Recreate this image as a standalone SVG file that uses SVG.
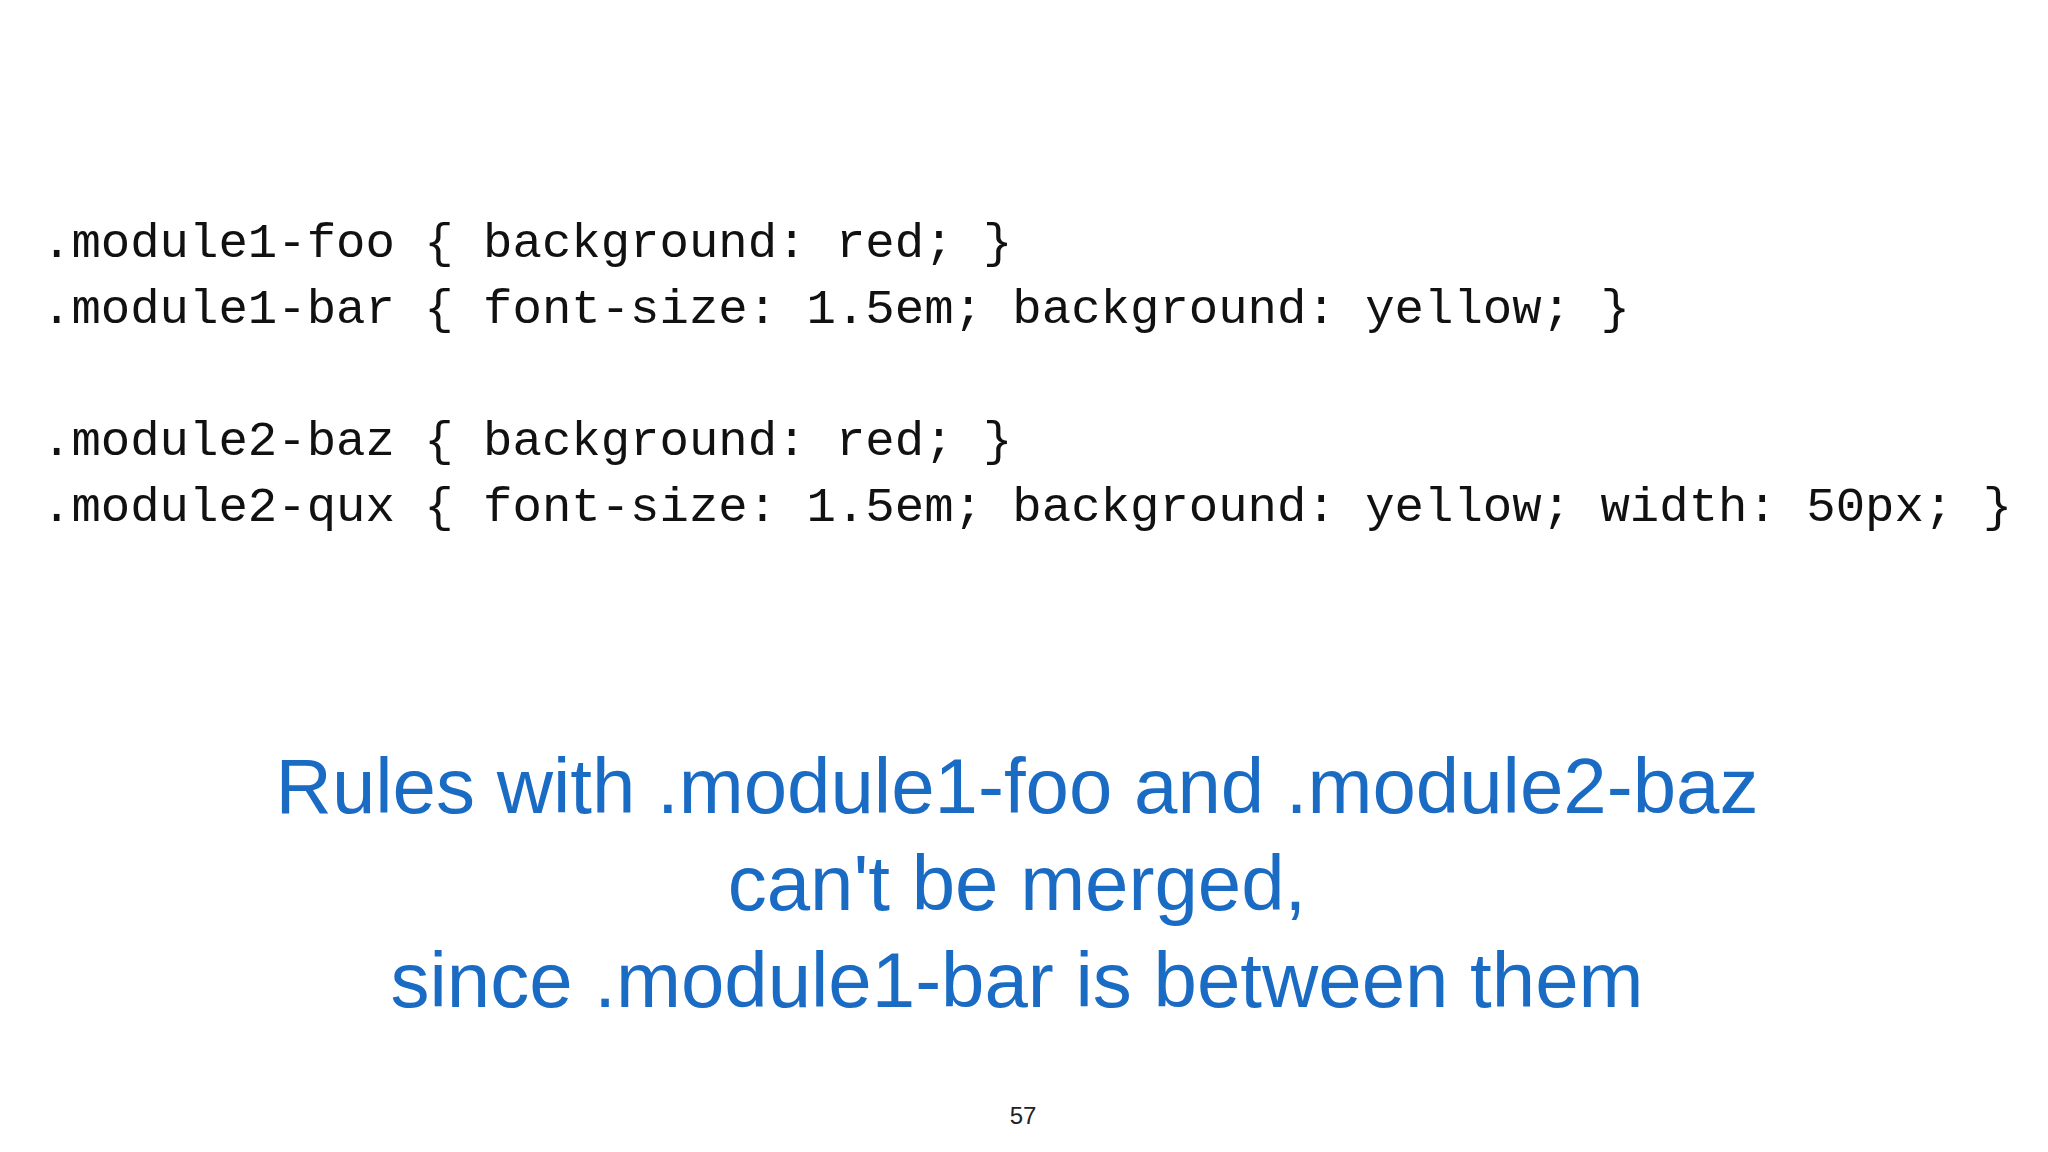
<svg xmlns="http://www.w3.org/2000/svg" width="2048" height="1152" viewBox="0 0 2048 1152">
<style>
.code{font-family:"Liberation Mono","DejaVu Sans Mono",monospace;font-size:49px;fill:#111}
.msg{font-family:"Liberation Sans",Arial,sans-serif;font-size:78px;fill:#1a6bc4;text-anchor:middle}
.pg{font-family:"Liberation Sans",Arial,sans-serif;font-size:24px;fill:#222;text-anchor:middle}
</style>
<rect width="2048" height="1152" fill="#fff"/>
<g id="code">
<text class="code" x="42" y="257">.module1-foo { background: red; }</text>
<text class="code" x="42" y="323">.module1-bar { font-size: 1.5em; background: yellow; }</text>
<text class="code" x="42" y="455">.module2-baz { background: red; }</text>
<text class="code" x="42" y="521">.module2-qux { font-size: 1.5em; background: yellow; width: 50px; }</text>
</g>
<g id="message">
<text class="msg" x="1017" y="813">Rules with .module1-foo and .module2-baz</text>
<text class="msg" x="1017" y="910">can't be merged,</text>
<text class="msg" x="1017" y="1007">since .module1-bar is between them</text>
</g>
<text class="pg" x="1023" y="1124">57</text>
</svg>
